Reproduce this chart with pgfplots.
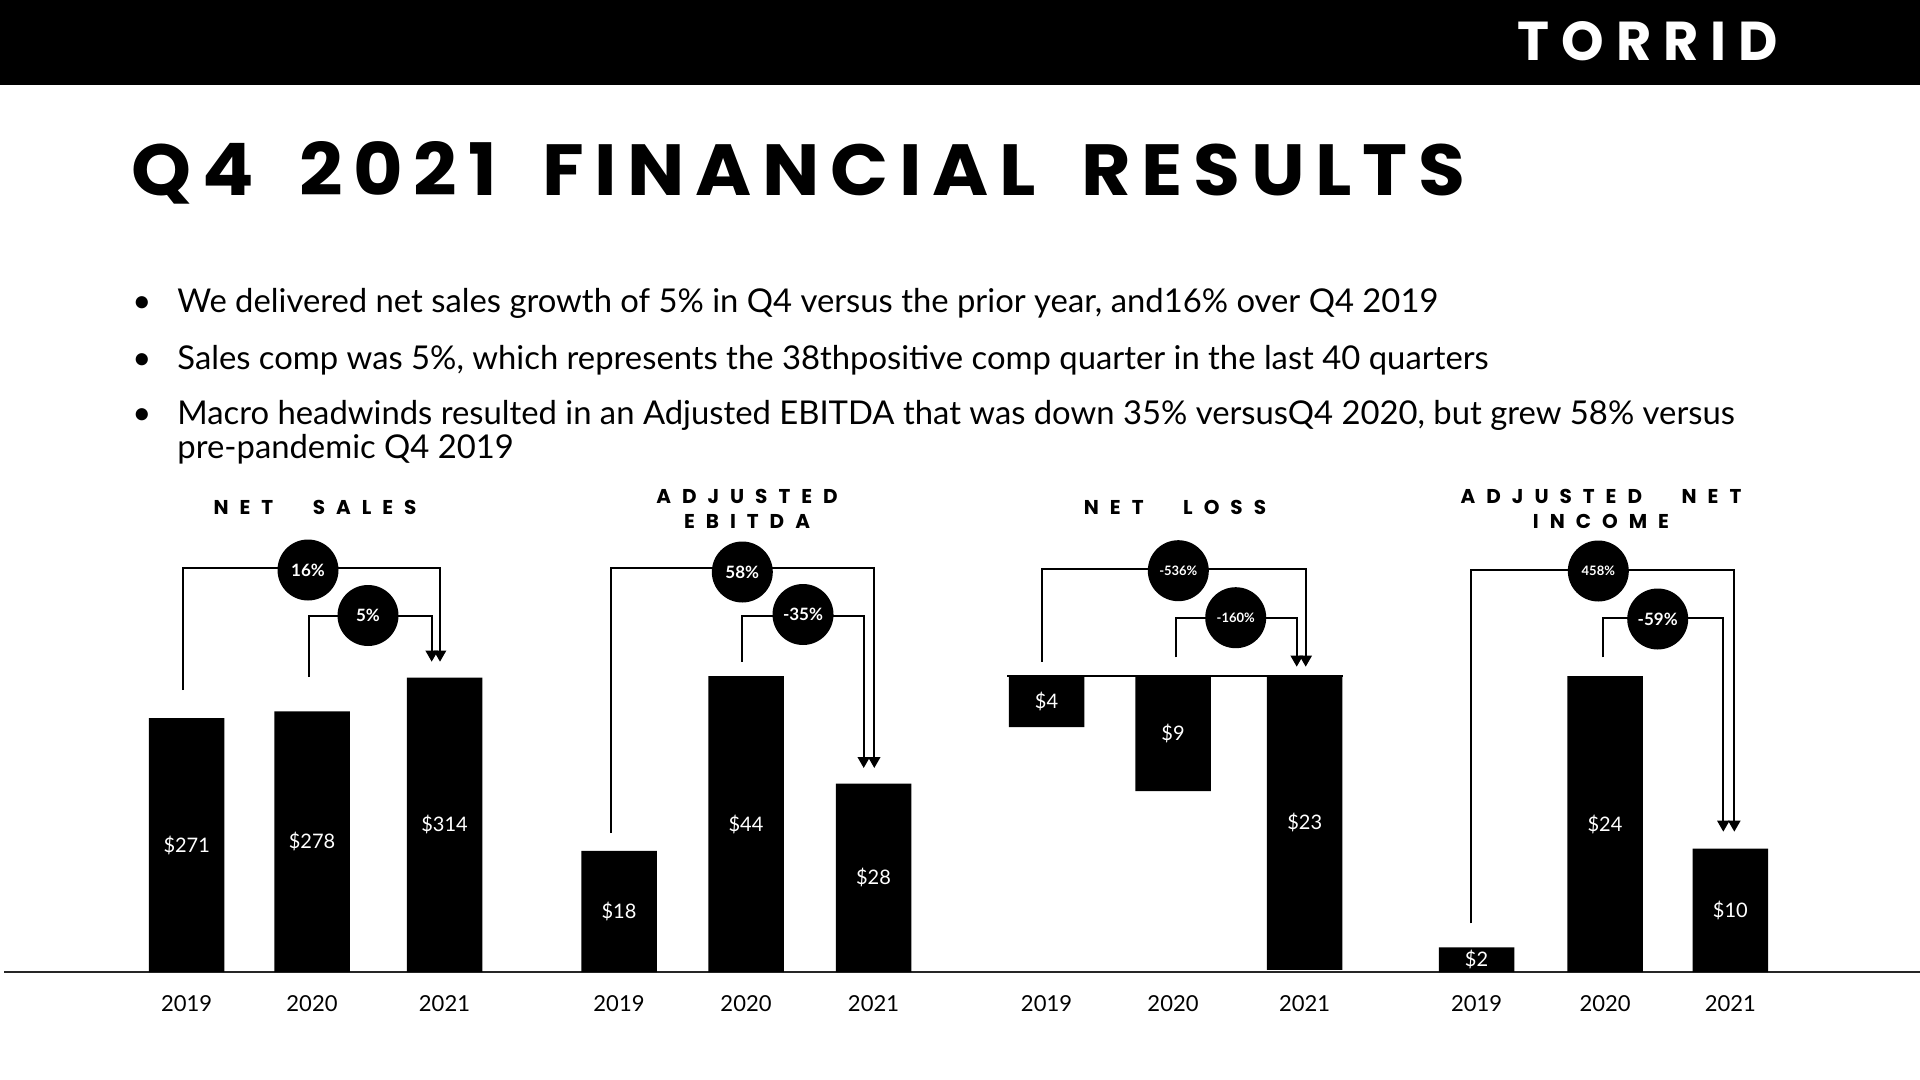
\documentclass[border=0pt]{standalone}
\usepackage{fontspec}
\setmainfont{Lato}
\newfontfamily\logofont[LetterSpace=22]{Poppins}
\newfontfamily\titlefont[LetterSpace=14,WordSpace=1.7]{Poppins}
\newfontfamily\spacedfont[LetterSpace=55,WordSpace=2.6]{Poppins}
\newfontfamily\badgefont{Lato}
\usepackage{graphicx}
\usepackage{pgfplots}
\pgfplotsset{compat=1.18}
\usetikzlibrary{arrows.meta}

% all four panels share one x scale: axis units = pixels of the 1920 px slide
\pgfplotsset{panel/.style={
    scale only axis, width=960pt, height=148pt,
    at={(0pt,-486pt)}, anchor=south west,
    xmin=0, xmax=1920, enlargelimits=false, clip=false,
    axis line style={draw=none}, major tick length=0pt,
    ytick=\empty, xtick=data, xticklabels={2019,2020,2021},
    /pgf/number format/assume math mode=true,
    xticklabel style={font=\fontsize{11pt}{13pt}\selectfont, anchor=center, yshift=-16pt},
    ybar, bar width=75.5,
}}
\tikzset{
    val/.style={text=white, font=\fontsize{10pt}{12pt}\selectfont, inner sep=0},
    badge/.style={circle, fill=black, minimum size=30.5pt, inner sep=0, text=white},
    bracket/.style={line width=1pt, -{Triangle[width=6pt,length=5.5pt]}},
    ptitle/.style={inner sep=0, font=\fontsize{10pt}{12pt}\spacedfont\bfseries},
}

\begin{document}
\begin{tikzpicture}
\useasboundingbox (0pt,0pt) rectangle (960pt,-540pt);
\begin{scope}[x=0.5pt,y=-0.5pt]
\fill[white] (0,0) rectangle (1920,1080);
\fill[black] (0,0) rectangle (1920,85);
\node[text=white, inner sep=0] at (1648,41.5) {\resizebox{130pt}{19.5pt}{\logofont\bfseries TORRID}};
\node[anchor=base west, inner sep=0] at (131,196) {\resizebox{667pt}{27pt}{\titlefont\bfseries Q4 2021 FINANCIAL RESULTS}};

% bullets
\begin{scope}[every node/.style={anchor=base west, inner sep=0, font=\fontsize{16.4pt}{19pt}\selectfont}]
\node at (132,313) {•};
\node at (177,313) {We delivered net sales growth of 5\% in Q4 versus the prior year, and16\% over Q4 2019};
\node at (132,370) {•};
\node at (177,370) {Sales comp was 5\%, which represents the 38thpositive comp quarter in the last 40 quarters};
\node at (132,424) {•};
\node at (177,424) {Macro headwinds resulted in an Adjusted EBITDA that was down 35\% versusQ4 2020, but grew 58\% versus};
\node at (177,458) {pre-pandemic Q4 2019};
\end{scope}

% panel titles
\node[ptitle] at (315,507) {NET SALES};
\node[ptitle] at (747,496) {ADJUSTED};
\node[ptitle] at (747,521) {EBITDA};
\node[ptitle] at (1175,507) {NET LOSS};
\node[ptitle] at (1601,496) {ADJUSTED NET};
\node[ptitle] at (1601,521) {INCOME};

\draw[line width=0.9pt, black!85] (4,972) -- (1920,972);
\end{scope}

% net sales
\begin{axis}[panel, ymin=0, ymax=315.8]
\addplot[fill=black, draw=none] coordinates {(186.7,271) (312,278) (444.5,314)};
\node[val] at (axis cs:186.7,135.5) {\$271};
\node[val] at (axis cs:312,139) {\$278};
\node[val] at (axis cs:444.5,157) {\$314};
\end{axis}

% adjusted EBITDA
\begin{axis}[panel, ymin=0, ymax=44]
\addplot[fill=black, draw=none] coordinates {(619,18) (746,44) (873.5,28)};
\node[val] at (axis cs:619,9) {\$18};
\node[val] at (axis cs:746,22) {\$44};
\node[val] at (axis cs:873.5,14) {\$28};
\end{axis}

% net loss
\begin{axis}[panel, ymin=-23.16, ymax=0]
\addplot[fill=black, draw=none] coordinates {(1046.5,-4) (1173,-9) (1304.7,-23)};
\draw[line width=0.8pt] (axis cs:1007,0) -- (axis cs:1343,0);
\node[val] at (axis cs:1046.5,-2) {\$4};
\node[val] at (axis cs:1173,-4.5) {\$9};
\node[val] at (axis cs:1304.7,-11.5) {\$23};
\end{axis}

% adjusted net income
\begin{axis}[panel, ymin=0, ymax=24]
\addplot[fill=black, draw=none] coordinates {(1476.5,2) (1605,24) (1730.3,10)};
\node[val] at (axis cs:1476.5,1) {\$2};
\node[val] at (axis cs:1605,12) {\$24};
\node[val] at (axis cs:1730.3,5) {\$10};
\end{axis}

% growth brackets
\begin{scope}[x=0.5pt,y=-0.5pt]
\draw[bracket] (183.3,690) |- (440,567.7) -- (440,661.7);
\draw[bracket] (309,677) |- (431.7,615.7) -- (431.7,661.7);
\node[badge, font=\fontsize{8.5pt}{10pt}\badgefont\bfseries] at (308,570) {16\%};
\node[badge, font=\fontsize{8.5pt}{10pt}\badgefont\bfseries] at (368,615.5) {5\%};

\draw[bracket] (611,833) |- (874.3,567.7) -- (874.3,768);
\draw[bracket] (742,661.7) |- (863.7,615.7) -- (863.7,768);
\node[badge, font=\fontsize{8.5pt}{10pt}\badgefont\bfseries] at (742.3,572) {58\%};
\node[badge, font=\fontsize{8.5pt}{10pt}\badgefont\bfseries] at (803,614.5) {-35\%};

\draw[bracket] (1042,661.7) |- (1305.7,569.3) -- (1305.7,666.7);
\draw[bracket] (1176,657.3) |- (1296.7,618) -- (1296.7,666.7);
\node[badge, font=\fontsize{6.5pt}{8pt}\badgefont\bfseries] at (1178.3,570.7) {-536\%};
\node[badge, font=\fontsize{6.5pt}{8pt}\badgefont\bfseries] at (1235.7,617.7) {-160\%};

\draw[bracket] (1470.7,923.3) |- (1734.3,570) -- (1734.3,831.7);
\draw[bracket] (1602.7,657.3) |- (1723.3,617.7) -- (1723.3,831.7);
\node[badge, font=\fontsize{6.5pt}{8pt}\badgefont\bfseries] at (1598.3,571) {458\%};
\node[badge, font=\fontsize{8.5pt}{10pt}\badgefont\bfseries] at (1657.7,619) {-59\%};
\end{scope}
\end{tikzpicture}
\end{document}
